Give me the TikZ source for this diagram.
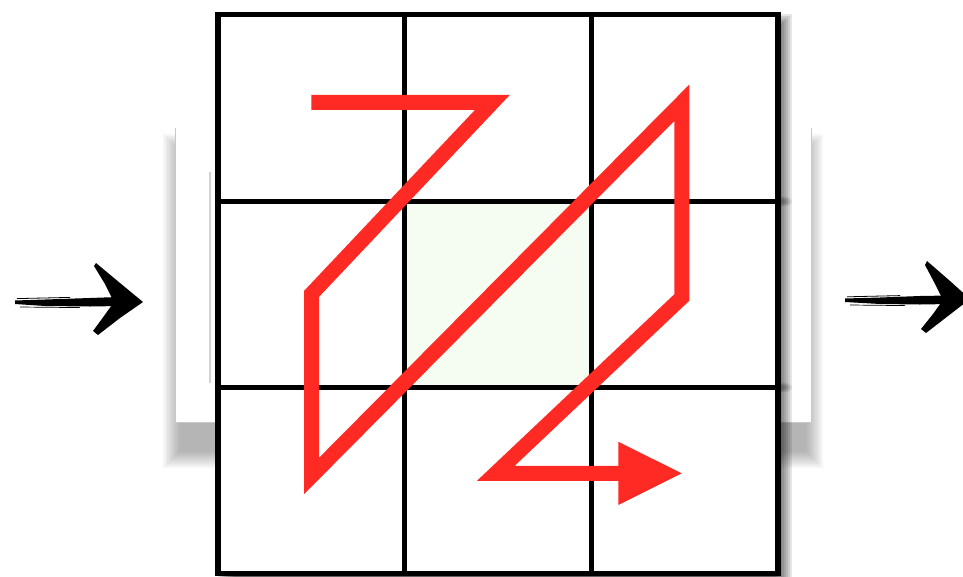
\documentclass[tikz,border=0pt]{standalone}
\definecolor{zred}{RGB}{255,42,36}
\definecolor{cellgreen}{RGB}{245,252,242}
\definecolor{framegray}{RGB}{200,200,200}
\tikzset{
  outerline/.style={line width=5.5pt, black},
  innerline/.style={line width=4.7pt, black},
  zpath/.style={line width=15pt, zred, line join=miter, line cap=butt, miter limit=10},
  ink/.style={fill=black, draw=none},
}
\begin{document}
\begin{tikzpicture}[x=1pt,y=-1pt]
\useasboundingbox (0,0) rectangle (963,576);
\fill[white] (0,0) rectangle (963,576);
% frame shadow (soft)
\foreach \d in {-8,-6,...,8}{
  \fill[black,opacity=0.035] ({171-\d},{142-\d}) rectangle ({815+\d},{460+\d});
}
% frame
\fill[white] (175.5,128) rectangle (811,422);
\draw[framegray, line width=1pt] (175.5,128) -- (175.5,422) -- (811,422) -- (811,128);
\draw[framegray!80, line width=1.5pt] (210,172) -- (210,383);
% grid shadow
\foreach \d in {-8,-6,...,8}{
  \fill[black,opacity=0.1] ({226-\d},{22-\d}) rectangle ({784+\d},{600+\d});
}
\foreach \yy in {201.5,387.5}{
  \foreach \d in {0,1,2,3}{
    \fill[black,opacity=0.08] (783,\yy) ellipse ({3+2*\d} and {2+\d});
  }
}
% grid
\coordinate (g00) at (218,14.7);
\coordinate (g33) at (778,573.5);
\fill[white] (g00) rectangle (g33);
\node[fill=cellgreen, inner sep=0pt, minimum width=186.6pt, minimum height=186pt] (center) at (498,294.5) {};
\draw[innerline] (404.7,14.7) -- (404.7,573.5);
\draw[innerline] (591.3,14.7) -- (591.3,573.5);
\draw[innerline] (218,201.5) -- (778,201.5);
\draw[innerline] (218,387.5) -- (778,387.5);
\draw[outerline] (g00) rectangle (g33);
% red zigzag path
\coordinate (p0) at (311.3,102.3);
\coordinate (p1) at (492.5,102.3);
\coordinate (p2) at (311.7,293.7);
\coordinate (p3) at (311.7,475.8);
\coordinate (p4) at (681.8,102.8);
\coordinate (p5) at (681.8,297.5);
\coordinate (p6) at (495.8,473.3);
\coordinate (p7) at (620,473.3);
\draw[zpath] (p0) -- (p1) -- (p2) -- (p3) -- (p4) -- (p5) -- (p6) -- (p7);
\fill[zred] (618.3,441.7) -- (681.7,473.3) -- (618.3,505) -- cycle;
% left sketchy arrow
\fill[ink] (15,300.5) -- (45,299.5) -- (90,298) -- (118,297) -- (120,306) -- (90,306.5) -- (45,306) -- (15,304) -- cycle;
\draw[black, line width=0.8pt] (17,298.6) -- (70,297.4);
\draw[black, line width=0.7pt] (20,307) -- (80,307.6);
\fill[ink] (96,263) -- (120,283) -- (143,302) -- (120,318) -- (98,335) -- (93,331) -- (104,316) -- (114,302) -- (105,284) -- (94,266) -- cycle;
% right sketchy arrow
\fill[ink] (845,298.5) -- (880,297.5) -- (920,296) -- (948,295.5) -- (950,304) -- (920,304.5) -- (880,304) -- (845,302) -- cycle;
\draw[black, line width=0.8pt] (847,296.8) -- (900,295.6);
\draw[black, line width=0.7pt] (850,305) -- (905,305.6);
\fill[ink] (927,261) -- (950,281) -- (970,299) -- (948,316) -- (926,333) -- (921,329) -- (933,314) -- (943,300) -- (934,282) -- (925,265) -- cycle;
\end{tikzpicture}
\end{document}
